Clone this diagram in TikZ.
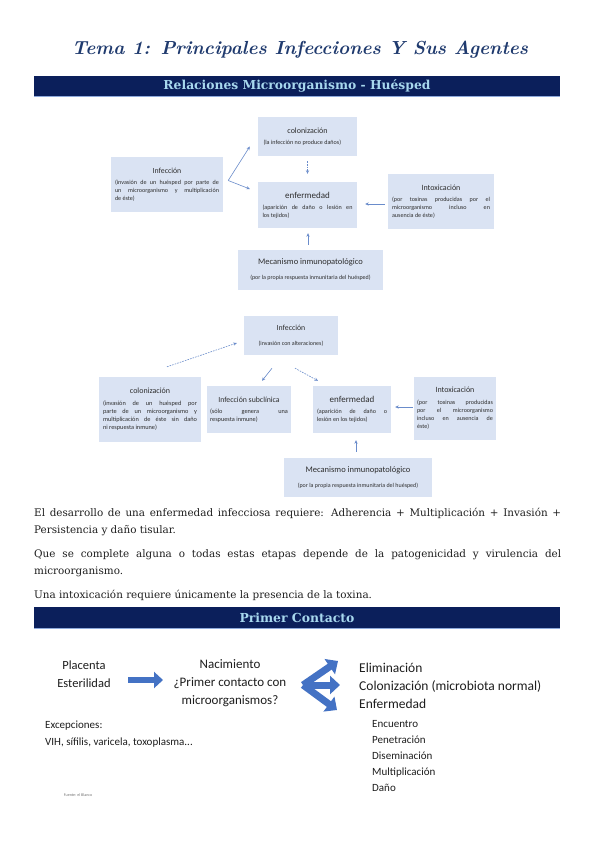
\documentclass[tikz,border=0pt]{standalone}
\usepackage{fontspec}
\usepackage{graphicx}
\newfontfamily\calf{Carlito}
\newfontfamily\serf{DejaVu Serif}
\usetikzlibrary{arrows.meta,calc}
\definecolor{navy}{HTML}{0B1F5B}
\definecolor{bannertext}{HTML}{A8D8EE}
\definecolor{bannerline}{HTML}{8EA9DB}
\definecolor{boxfill}{HTML}{DAE3F3}
\definecolor{arrowblue}{HTML}{6A8CCB}
\definecolor{blockblue}{HTML}{4472C4}
\definecolor{titleblue}{HTML}{1F3A6E}
\definecolor{boxtext}{HTML}{2E2E2E}
\definecolor{pctext}{HTML}{1E1E1E}
\newcommand\bxtitle[2]{\centerline{\fontsize{#1}{#1}\selectfont #2}\par\vspace{3pt}}
\newcommand\bxbody[1]{{\fontsize{6.1}{8}\selectfont #1\par}}
\begin{document}
\begin{tikzpicture}[x=1pt,y=-1pt,
  bx/.style={fill=boxfill, inner sep=0pt, align=justify, font=\calf, text=boxtext},
  banner/.style={fill=navy, text=bannertext, inner sep=0pt, minimum width=526pt},
  conn/.style={draw=arrowblue, line width=0.6pt, -{Stealth[length=3.5pt,width=3.2pt]}},
  dotconn/.style={conn, dash pattern=on 1.6pt off 1.1pt},
  blockarrow/.style={draw=blockblue, line width=6pt, -{Triangle[length=9pt,width=16pt]}},
  fanarrow/.style={draw=blockblue, line width=7pt, -{Triangle[length=10pt,width=18pt]}},
  para/.style={anchor=west, inner sep=0pt, font=\serf\fontsize{10.4}{12}\selectfont, text=black!88},
  pc/.style={inner sep=0pt, text=pctext}
]
\useasboundingbox[fill=white] (0,0) rectangle (599,848);

% title
\node[text=titleblue, inner sep=0pt] (title) at (300,50) {\resizebox{456pt}{!}{\bfseries\itshape Tema 1: Principales Infecciones Y Sus Agentes}};

% banner 1
\node[banner, minimum height=20pt] (ban1) at (297,86) {\resizebox{267pt}{!}{\serf\bfseries Relaciones Microorganismo - Huésped}};
\draw[bannerline, line width=1pt] (ban1.south west) -- (ban1.south east);

% diagram 1
\node[bx, minimum width=99pt, minimum height=39pt, text width=88pt] (a_col) at (307.5,136.5)
  {\bxtitle{8}{colonización}\bxbody{(la infección no produce daños)}};
\node[bx, minimum width=112pt, minimum height=55pt, text width=104pt] (a_inf) at (167,184.5)
  {\bxtitle{7.8}{Infección}\bxbody{(invasión de un huésped por parte de\linebreak un microorganismo y multiplicación\linebreak de éste)}};
\node[bx, minimum width=99pt, minimum height=46pt, text width=90pt] (a_enf) at (307.5,205)
  {\bxtitle{9}{enfermedad}\bxbody{(aparición de daño o lesión en\linebreak los tejidos)}};
\node[bx, minimum width=106pt, minimum height=55pt, text width=98pt] (a_int) at (441,201.5)
  {\bxtitle{8}{Intoxicación}\bxbody{(por toxinas producidas por el\linebreak microorganismo incluso en\linebreak ausencia de éste)}};
\node[bx, minimum width=145pt, minimum height=40pt, text width=138pt] (a_mec) at (310.5,270)
  {\bxtitle{8.5}{Mecanismo inmunopatológico}\centerline{\fontsize{6}{7.8}\selectfont (por la propia respuesta inmunitaria del huésped)}};

\coordinate (a_split) at ($(a_inf.east)+(5,-4)$);
\draw[conn] (a_split) -- ($(a_col.west)+(-8,10)$);
\draw[conn] (a_split) -- ($(a_enf.west)+(-8,-16)$);
\draw[dotconn] ($(a_col.south)+(0,5)$) -- ($(a_enf.north)+(0,-8)$);
\draw[conn] ($(a_int.west)+(-3,2.5)$) -- ($(a_enf.east)+(8,-1)$);
\draw[conn] ($(a_mec.north)+(-2.5,-5)$) -- ($(a_enf.south)+(0.5,5)$);

% diagram 2
\node[bx, minimum width=94pt, minimum height=39pt, text width=86pt] (b_inf) at (291,335.5)
  {\bxtitle{7.8}{Infección}\centerline{\fontsize{6}{7.8}\selectfont (invasión con alteraciones)}};
\node[bx, minimum width=102pt, minimum height=65pt, text width=94pt] (b_col) at (150,409.5)
  {\bxtitle{8}{colonización}{\fontsize{6.3}{8.2}\selectfont (invasión de un huésped por\linebreak parte de un microorganismo y\linebreak multiplicación de éste sin daño\linebreak ni respuesta inmune)\par}};
\node[bx, minimum width=84pt, minimum height=47pt, text width=78pt] (b_sub) at (249,409.5)
  {\bxtitle{7.8}{Infección subclínica}{\fontsize{6.3}{8.2}\selectfont (sólo genera una\linebreak respuesta inmune)\par}};
\node[bx, minimum width=78pt, minimum height=47pt, text width=70pt] (b_enf) at (352,409.5)
  {\bxtitle{9}{enfermedad}{\fontsize{6.1}{8.2}\selectfont (aparición de daño o\linebreak lesión en los tejidos)\par}};
\node[bx, minimum width=82pt, minimum height=63pt, text width=76pt] (b_int) at (455,408.5)
  {\bxtitle{8}{Intoxicación}{\fontsize{6.1}{8.2}\selectfont (por toxinas producidas\linebreak por el microorganismo\linebreak incluso en ausencia de\linebreak éste)\par}};
\node[bx, minimum width=148pt, minimum height=39pt, text width=140pt] (b_mec) at (358,477.5)
  {\bxtitle{8.5}{Mecanismo inmunopatológico}\centerline{\fontsize{6}{7.8}\selectfont (por la propia respuesta inmunitaria del huésped)}};

\draw[dotconn] ($(b_col.north)+(17,-10)$) -- ($(b_inf.west)+(-7,7.5)$);
\draw[conn] ($(b_inf.south)+(-19,13)$) -- ($(b_sub.north)+(13,-5)$);
\draw[dotconn] ($(b_inf.south)+(4,13)$) -- ($(b_enf.north)+(-34,-5)$);
\draw[conn] ($(b_int.west)+(-1,-1.5)$) -- ($(b_enf.east)+(4,-2.5)$);
\draw[conn] ($(b_mec.north)+(-2,-6)$) -- ($(b_enf.south)+(4,7)$);

% paragraphs
\node[para] (p1) at (34,513.5) {\makebox[527pt][s]{El desarrollo de una enfermedad infecciosa requiere: Adherencia + Multiplicación + Invasión +}};
\node[para] (p2) at (34,531) {Persistencia y daño tisular.};
\node[para] (p3) at (34,555) {\makebox[527pt][s]{Que se complete alguna o todas estas etapas depende de la patogenicidad y virulencia del}};
\node[para] (p4) at (34,572) {microorganismo.};
\node[para] (p5) at (34,595) {Una intoxicación requiere únicamente la presencia de la toxina.};

% banner 2
\node[banner, minimum height=21pt] (ban2) at (297,617.5) {\resizebox{115pt}{!}{\serf\bfseries Primer Contacto}};
\draw[bannerline, line width=1pt] (ban2.south west) -- (ban2.south east);

% primer contacto
\node[pc, font=\calf\fontsize{12.5}{18}\selectfont, align=center] (plac) at (84,674) {Placenta\\Esterilidad};
\node[pc, font=\calf\fontsize{13}{18}\selectfont, align=center] (nac) at (230,683) {Nacimiento\\¿Primer contacto con\\microorganismos?};
\node[pc, font=\calf\fontsize{13.5}{18}\selectfont, align=left, anchor=west] (outc) at (359,686) {Eliminación\\Colonización (microbiota normal)\\Enfermedad};
\node[pc, font=\calf\fontsize{11}{17}\selectfont, align=left, anchor=west] (exc) at (45,734.5) {Excepciones:\\VIH, sífilis, varicela, toxoplasma...};
\node[pc, font=\calf\fontsize{11}{16}\selectfont, align=left, anchor=west] (steps) at (372,756) {Encuentro\\Penetración\\Diseminación\\Multiplicación\\Daño};
\node[pc, font=\calf\fontsize{4}{5}\selectfont, text=black!55] (src) at (78,795) {Fuente: el Blanco};

\coordinate (arA) at (128,680);
\coordinate (arB) at (163,680);
\draw[blockarrow] (arA) -- (arB);
\coordinate (fan) at (303,685);
\coordinate (fanU) at (338,661);
\coordinate (fanM) at (340,685);
\coordinate (fanD) at (337,710);
\draw[fanarrow] (fan) -- (fanU);
\draw[fanarrow] (fan) -- (fanM);
\draw[fanarrow] (fan) -- (fanD);
\end{tikzpicture}
\end{document}
